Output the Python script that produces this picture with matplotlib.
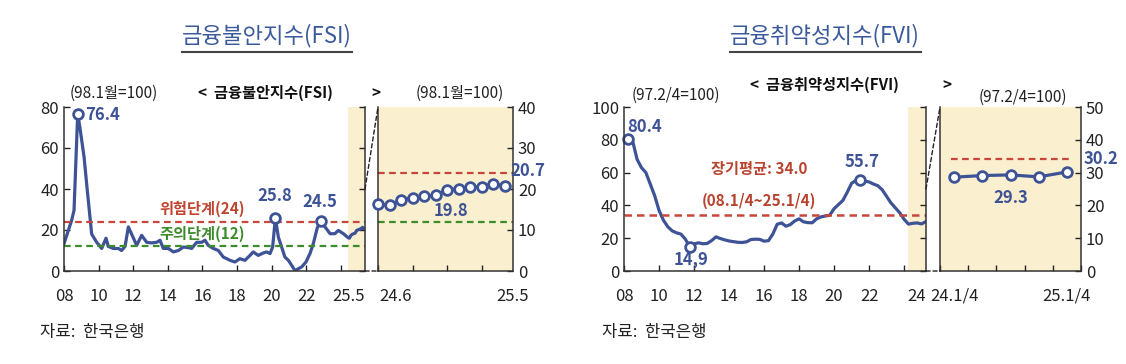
import matplotlib.pyplot as plt
import matplotlib as mpl
from matplotlib.patches import ConnectionPatch
from matplotlib.lines import Line2D
import numpy as np

plt.rcParams['font.family'] = ['Noto Sans CJK KR', 'DejaVu Sans']

# ---- FSI (monthly, 98.1 = 100) ----
fsi_dates = [2008.0, 2008.44, 2008.58, 2008.79, 2008.92, 2009.16, 2009.35, 2009.6, 2009.89,
             2010.18, 2010.43, 2010.56, 2010.85, 2011.14, 2011.33, 2011.53, 2011.72, 2011.91,
             2012.2, 2012.49, 2012.78, 2013.07, 2013.36, 2013.55, 2013.74, 2014.03, 2014.32,
             2014.61, 2014.9, 2015.19, 2015.38, 2015.67, 2015.96, 2016.15, 2016.34, 2016.63,
             2016.92, 2017.21, 2017.6, 2017.88, 2018.17, 2018.46, 2018.75, 2018.94, 2019.23,
             2019.52, 2019.71, 2019.91, 2020.06, 2020.22, 2020.39, 2020.58, 2020.77, 2020.97,
             2021.16, 2021.35, 2021.55, 2021.74, 2021.99, 2022.22, 2022.41, 2022.64, 2022.84,
             2023.09, 2023.38, 2023.66, 2023.86, 2024.15]
fsi_values = [13.3, 24.7, 29.6, 76.4, 70.0, 55.6, 39.0, 18.0, 14.0,
              11.0, 16.0, 12.0, 11.0, 11.0, 10.0, 12.0, 21.5, 18.0,
              12.5, 17.4, 14.0, 13.7, 14.0, 15.0, 11.0, 11.0, 9.3,
              10.0, 11.7, 11.4, 11.0, 14.0, 14.0, 15.0, 12.5, 11.0,
              10.0, 6.8, 5.2, 4.4, 6.0, 5.2, 7.6, 9.3, 7.6,
              8.8, 9.3, 8.5, 11.7, 25.8, 16.6, 11.7, 6.8, 5.2,
              2.8, 0.2, 1.1, 2.0, 4.4, 8.5, 13.3, 21.0, 24.5,
              21.5, 18.2, 18.2, 19.8, 18.2]
fsi_recent_labels = ['24.6', '24.7', '24.8', '24.9', '24.10', '24.11', '24.12',
                     '25.1', '25.2', '25.3', '25.4', '25.5']
fsi_recent_dates = [2024 + 5/12, 2024 + 6/12, 2024 + 7/12, 2024 + 8/12, 2024 + 9/12,
                    2024 + 10/12, 2024 + 11/12, 2025.0, 2025 + 1/12, 2025 + 2/12,
                    2025 + 3/12, 2025 + 4/12]
fsi_recent = [16.3, 16.0, 17.4, 17.9, 18.2, 18.5, 19.8, 20.1, 20.4, 20.5, 21.3, 20.7]
fsi_peaks = [(2008.79, 76.4), (2020.22, 25.8), (2022.84, 24.5)]
fsi_danger, fsi_caution = 24, 12

# ---- FVI (quarterly, 97.2/4 = 100), 2008Q1 .. 2025Q1 ----
fvi_values = [80.4, 79.0, 68.0, 63.0, 60.0, 53.0, 46.0, 37.0, 31.0, 27.0,
              24.5, 23.3, 22.5, 19.5, 14.9, 16.5, 17.2, 16.6, 16.8, 18.5,
              20.8, 19.8, 19.0, 18.3, 17.9, 17.5, 17.4, 17.8, 19.2, 19.4,
              19.3, 18.2, 18.5, 22.5, 28.5, 29.3, 27.3, 28.3, 30.5, 31.8,
              30.0, 29.5, 29.4, 31.8, 33.0, 33.5, 34.0, 38.0, 40.5, 43.0,
              48.0, 53.5, 55.2, 55.7, 54.8, 54.3, 53.0, 52.0, 49.5, 45.5,
              41.5, 38.5, 35.5, 31.5, 28.6, 29.1, 29.3, 28.7, 30.2]
fvi_dates = [2008.25 + 0.25 * i for i in range(len(fvi_values))]
fvi_recent_labels = ['24.1/4', '24.2/4', '24.3/4', '24.4/4', '25.1/4']
fvi_recent = fvi_values[-5:]
fvi_avg = 34.0

BLUE = '#3E5396'
RED = '#C9473A'
GREEN = '#3D8C2C'
SHADE = '#FAF0CF'
W, H = 1126, 364

fig = plt.figure(figsize=(W / 100, H / 100), dpi=100)


def box(x0, y0, x1, y1):
    return [x0 / W, 1 - y1 / H, (x1 - x0) / W, (y1 - y0) / H]


def ftext(x, y, s, **kw):
    fig.text(x / W, 1 - y / H, s, **kw)


def style(ax):
    ax.spines['top'].set_visible(False)
    for s in ['left', 'right', 'bottom']:
        ax.spines[s].set_linewidth(1.1)
        ax.spines[s].set_color('#333333')
    ax.tick_params(which='both', direction='in', length=4, width=1, labelsize=12, colors='#222222')
    ax.tick_params(axis='x', which='minor', length=0, pad=12)
    ax.tick_params(axis='x', which='major', pad=12)


# ================= FSI =================
ax1 = fig.add_axes(box(64, 107, 365, 271))
style(ax1)
ax1.plot(fsi_dates + fsi_recent_dates, fsi_values + fsi_recent, color=BLUE, lw=2.3)
ax1.axvspan(fsi_recent_dates[0] - 0.02, 2025.4, color=SHADE, lw=0, zorder=0)
ax1.axhline(fsi_danger, color=RED, ls=(0, (3, 2)), lw=1.6)
ax1.axhline(fsi_caution, color=GREEN, ls=(0, (3, 2)), lw=1.6)
for px, py in fsi_peaks:
    ax1.plot(px, py, 'o', ms=7, mfc='white', mec=BLUE, mew=2, clip_on=False)
ax1.text(2009.25, 76, '76.4', color=BLUE, fontsize=12, fontweight='bold', va='center')
ax1.text(2020.2, 36.5, '25.8', color=BLUE, fontsize=12, fontweight='bold', ha='center', va='center')
ax1.text(2022.8, 33.5, '24.5', color=BLUE, fontsize=12, fontweight='bold', ha='center', va='center')
ax1.text(2016.0, 30.5, '위험단계(24)', color='#C0442F', fontsize=11, fontweight='bold', ha='center', va='center')
ax1.text(2016.0, 18.3, '주의단계(12)', color=GREEN, fontsize=11, fontweight='bold', ha='center', va='center')
ax1.set_xlim(2008.0, 2025.4)
ax1.set_ylim(0, 80)
ax1.set_yticks(np.arange(0, 81, 20))
ax1.set_xticks(np.arange(2008, 2025, 2), ['08', '10', '12', '14', '16', '18', '20', '22', ''])
ax1.set_xticks([2024.45], ['25.5'], minor=True)
ax1.tick_params(axis='y', right=True)

ax2 = fig.add_axes(box(378, 107, 513, 271))
style(ax2)
ax2.set_facecolor(SHADE)
n = len(fsi_recent)
ax2.plot(range(n), fsi_recent, color=BLUE, lw=2.3, marker='o', ms=7, mfc='white',
         mec=BLUE, mew=2, clip_on=False, zorder=3)
ax2.axhline(fsi_danger, color=RED, ls=(0, (3, 2)), lw=1.6)
ax2.axhline(fsi_caution, color=GREEN, ls=(0, (3, 2)), lw=1.6)
ax2.set_xlim(0, n - 1)
ax2.set_ylim(0, 40)
ax2.set_yticks(np.arange(0, 41, 10))
ax2.yaxis.tick_right()
ax2.tick_params(axis='y', left=False, right=True, labelright=True)
ax2.set_xticks([0, 3, 6, 9], ['', '', '', ''])
ax2.set_xticks([1.5, 6, 11.7], [fsi_recent_labels[0], fsi_recent_labels[6], fsi_recent_labels[11]], minor=True)
ax2.text(6.3, 14.7, '19.8', color=BLUE, fontsize=12, fontweight='bold', ha='center', va='center')
ax2.text(11.45, 24.3, '20.7', color=BLUE, fontsize=12, fontweight='bold', va='center', clip_on=False)

for y in (40, 0):
    fig.add_artist(ConnectionPatch(xyA=(2025.4, y), coordsA=ax1.transData,
                                   xyB=(0, y), coordsB=ax2.transData,
                                   color='#222222', lw=1, ls=(0, (3, 2))))

ftext(114, 93, '(98.1월=100)', fontsize=11, ha='center', va='center', color='#222222')
ftext(198, 93, '<  금융불안지수(FSI)', fontsize=11, fontweight='bold', va='center', color='#111111')
ftext(376, 93, '>', fontsize=11, fontweight='bold', ha='center', va='center', color='#111111')
ftext(460, 93, '(98.1월=100)', fontsize=11, ha='center', va='center', color='#222222')

# ================= FVI =================
ax3 = fig.add_axes(box(624, 107, 926, 271))
style(ax3)
ax3.plot(fvi_dates, fvi_values, color=BLUE, lw=2.3)
ax3.axvspan(fvi_dates[-5] - 0.05, 2025.25, color=SHADE, lw=0, zorder=0)
ax3.axhline(fvi_avg, color=RED, ls=(0, (3, 2)), lw=1.8)
imax = int(np.argmax(fvi_values[40:])) + 40
imin = int(np.argmin(fvi_values[:40]))
for i in (0, imin, imax):
    ax3.plot(fvi_dates[i], fvi_values[i], 'o', ms=7, mfc='white', mec=BLUE, mew=2, clip_on=False)
ax3.text(2008.2, 88, '80.4', color=BLUE, fontsize=12, fontweight='bold', va='center')
ax3.text(2011.85, 7, '14,9', color=BLUE, fontsize=12, fontweight='bold', ha='center', va='center')
ax3.text(2021.6, 66.5, '55.7', color=BLUE, fontsize=12, fontweight='bold', ha='center', va='center')
ax3.text(2015.7, 62, '장기평균: 34.0', color='#B8432F', fontsize=11, fontweight='bold', ha='center', va='center')
ax3.text(2015.7, 42.5, '(08.1/4~25.1/4)', color='#B8432F', fontsize=11, fontweight='bold', ha='center', va='center')
ax3.set_xlim(2008.0, 2025.25)
ax3.set_ylim(0, 100)
ax3.set_yticks(np.arange(0, 101, 20))
ax3.set_xticks(np.arange(2008, 2025, 2), ['08', '10', '12', '14', '16', '18', '20', '22', ''])
ax3.set_xticks([2024.7], ['24'], minor=True)
ax3.tick_params(axis='y', right=True)

ax4 = fig.add_axes(box(940, 107, 1081, 271))
style(ax4)
ax4.set_facecolor(SHADE)
m = len(fvi_recent)
ax4.plot(range(m), fvi_recent, color=BLUE, lw=2.3, marker='o', ms=7, mfc='white',
         mec=BLUE, mew=2, zorder=3)
ax4.plot([-0.1, m - 0.9], [fvi_avg, fvi_avg], color=RED, ls=(0, (3, 2)), lw=1.6)
ax4.set_xlim(-0.5, m - 0.5)
ax4.set_ylim(0, 50)
ax4.set_yticks(np.arange(0, 51, 10))
ax4.yaxis.tick_right()
ax4.tick_params(axis='y', left=False, right=True, labelright=True)
ax4.set_xticks(np.arange(-0.5, m, 1), [''] * (m + 1))
ax4.set_xticks([0, m - 1], [fvi_recent_labels[0], fvi_recent_labels[-1]], minor=True)
ax4.text(2, 22.4, '29.3', color=BLUE, fontsize=12, fontweight='bold', ha='center', va='center')
ax4.text(4.6, 34.2, '30.2', color=BLUE, fontsize=12, fontweight='bold', va='center', clip_on=False)

for y in (50, 0):
    fig.add_artist(ConnectionPatch(xyA=(2025.25, y), coordsA=ax3.transData,
                                   xyB=(-0.5, y), coordsB=ax4.transData,
                                   color='#222222', lw=1, ls=(0, (3, 2))))

ftext(676, 95, '(97.2/4=100)', fontsize=11, ha='center', va='center', color='#222222')
ftext(750, 85, '<  금융취약성지수(FVI)', fontsize=11, fontweight='bold', va='center', color='#111111')
ftext(947, 85, '>', fontsize=11, fontweight='bold', ha='center', va='center', color='#111111')
ftext(1023, 97, '(97.2/4=100)', fontsize=11, ha='center', va='center', color='#222222')

# ---- titles and source ----
ftext(267, 36, '금융불안지수(FSI)', fontsize=16, fontweight='medium', ha='center', va='center', color='#3B5A9B')
ftext(825, 36, '금융취약성지수(FVI)', fontsize=16, fontweight='medium', ha='center', va='center', color='#3B5A9B')
fig.add_artist(Line2D([182 / W, 352 / W], [1 - 52 / H] * 2, color='#444444', lw=1.5))
fig.add_artist(Line2D([730 / W, 921 / W], [1 - 52 / H] * 2, color='#444444', lw=1.5))
ftext(40, 332, '자료:  한국은행', fontsize=12, va='center', color='#222222')
ftext(602, 332, '자료:  한국은행', fontsize=12, va='center', color='#222222')

fig.savefig('out.png', dpi=100)
